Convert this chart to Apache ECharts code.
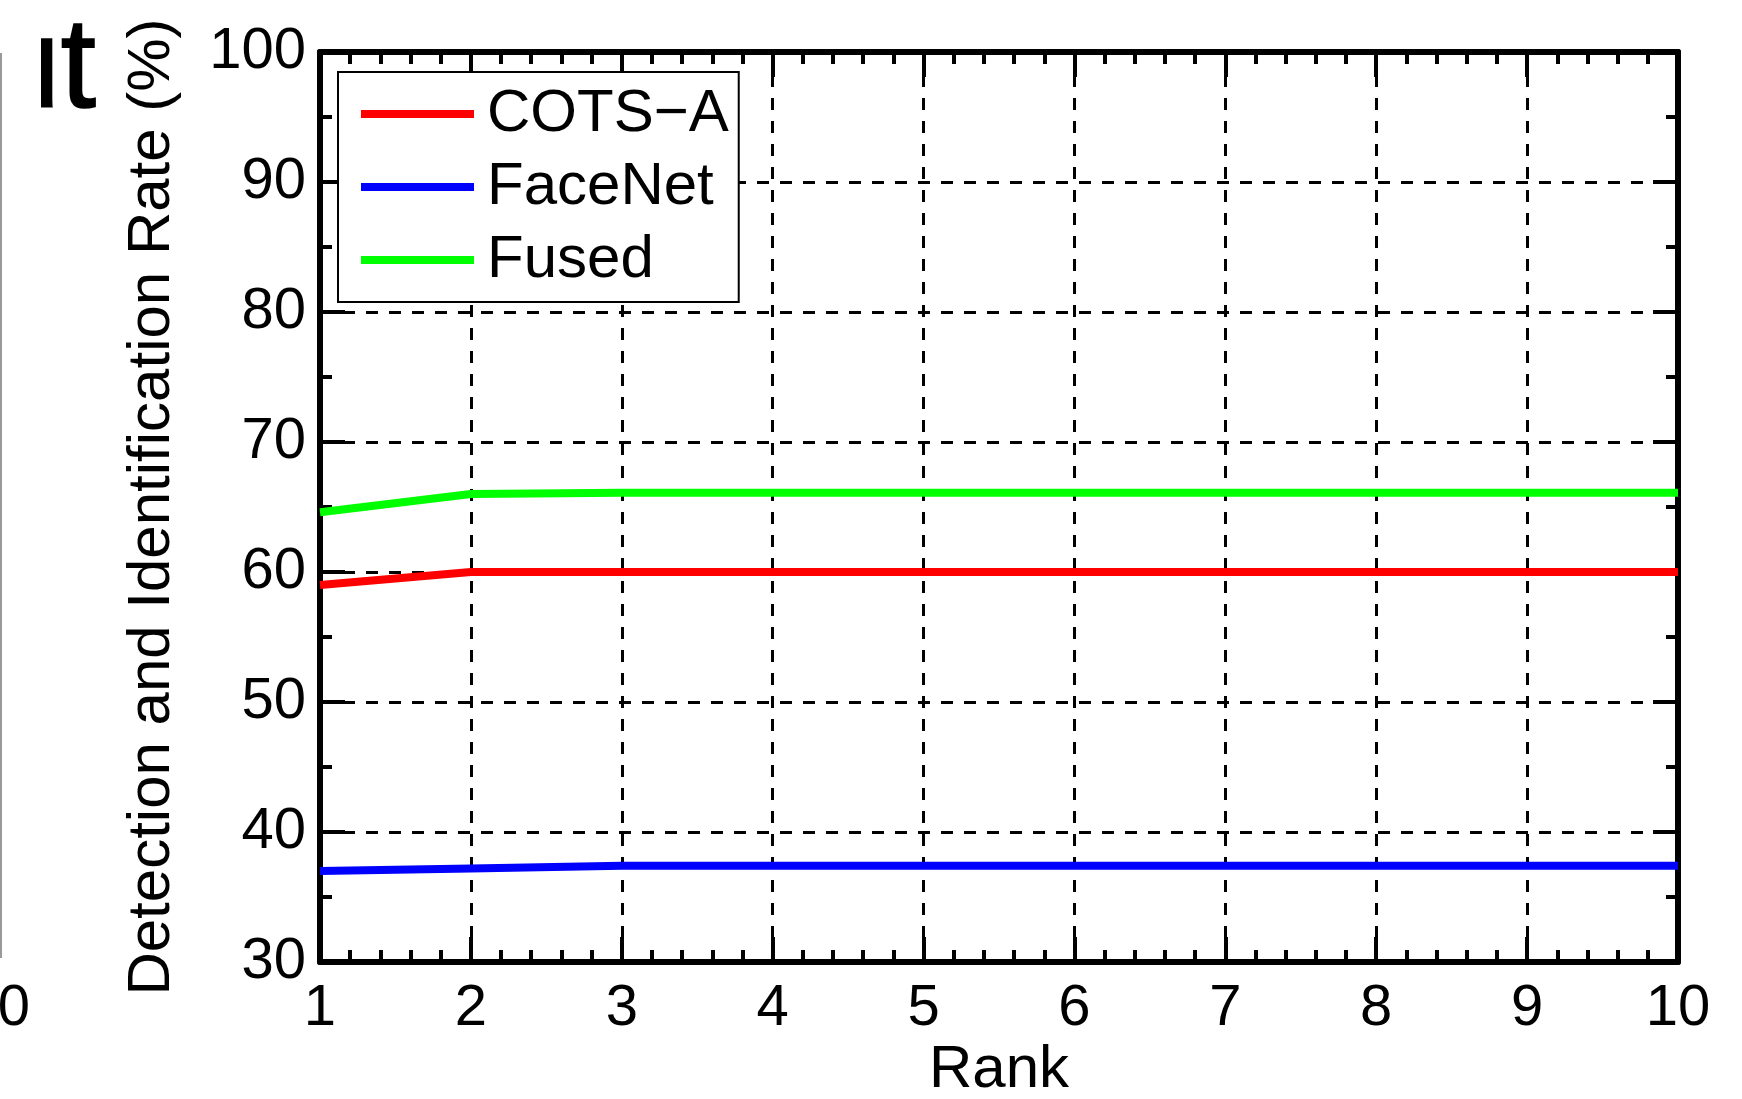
<!DOCTYPE html>
<html>
<head>
<meta charset="utf-8">
<script src="https://cdn.jsdelivr.net/npm/echarts@6/dist/echarts.min.js"></script>
<style>
html,body{margin:0;padding:0;background:#fff;}
#chart{width:1742px;height:1099px;}
</style>
</head>
<body>
<div id="chart"></div>
<script>
// ---- data ----
const ranks = [1, 2, 3, 4, 5, 6, 7, 8, 9, 10];
const seriesNames = ['COTS\u2212A', 'FaceNet', 'Fused'];
const cotsA  = [59.0, 60.0, 60.0, 60.0, 60.0, 60.0, 60.0, 60.0, 60.0, 60.0];
const faceNet = [37.0, 37.2, 37.4, 37.4, 37.4, 37.4, 37.4, 37.4, 37.4, 37.4];
const fused  = [64.6, 66.0, 66.1, 66.1, 66.1, 66.1, 66.1, 66.1, 66.1, 66.1];
const seriesColors = ['#ff0000', '#0000ff', '#00ff00'];
const xTitle = 'Rank';
const yTitle = 'Detection and Identification Rate (%)';

const FONT = '"Liberation Sans", Arial, Helvetica, sans-serif';
const chart = echarts.init(document.getElementById('chart'), null, {renderer: 'canvas'});

const pairs = vals => ranks.map((r, i) => [r, vals[i]]);
const allVals = [cotsA, faceNet, fused];

const tickStyle = {show: true, inside: true, length: 25, lineStyle: {color: '#000', width: 4}};
const minorStyle = (n) => ({show: true, splitNumber: n, length: 12, lineStyle: {color: '#000', width: 4}});
const lineAxis = {show: true, lineStyle: {color: '#000', width: 6}};
const gridDash = {show: true, lineStyle: {color: '#000', width: 3, type: [12, 11]}};

const option = {
  backgroundColor: '#fff',
  animation: false,
  grid: {left: 320, right: 64, top: 52, bottom: 137, containLabel: false},
  xAxis: [
    {type: 'value', min: 1, max: 10, interval: 1, position: 'bottom',
     axisLine: lineAxis, axisTick: tickStyle, minorTick: minorStyle(5),
     splitLine: gridDash,
     axisLabel: {color: '#000', fontSize: 58, fontFamily: FONT, margin: 18,
                 showMinLabel: true, showMaxLabel: true}},
    {type: 'value', min: 1, max: 10, interval: 1, position: 'top',
     axisLine: lineAxis, axisTick: tickStyle, minorTick: minorStyle(5),
     splitLine: {show: false}, axisLabel: {show: false}}
  ],
  yAxis: [
    {type: 'value', min: 30, max: 100, interval: 10, position: 'left',
     axisLine: lineAxis, axisTick: tickStyle, minorTick: minorStyle(2),
     splitLine: gridDash,
     axisLabel: {color: '#000', fontSize: 58, fontFamily: FONT, margin: 14}},
    {type: 'value', min: 30, max: 100, interval: 10, position: 'right',
     axisLine: lineAxis, axisTick: tickStyle, minorTick: minorStyle(2),
     splitLine: {show: false}, axisLabel: {show: false}}
  ],
  legend: {
    orient: 'vertical', left: 338, top: 72,
    backgroundColor: '#fff', borderColor: '#000', borderWidth: 2, borderRadius: 0,
    padding: [12, 10, 12, 23],
    itemGap: 13, itemWidth: 113, itemHeight: 8,
    icon: 'rect',
    textStyle: {color: '#000', fontSize: 60, lineHeight: 60, fontFamily: FONT, padding: [0, 0, 0, 8]},
    data: seriesNames
  },
  graphic: [
    {type: 'text', x: 152, y: 507, rotation: Math.PI / 2,
     style: {text: yTitle, fill: '#000', font: '60px ' + FONT, align: 'center', verticalAlign: 'middle'}},
    {type: 'text', x: 999, y: 1070,
     style: {text: xTitle, fill: '#000', font: '60px ' + FONT, align: 'center', verticalAlign: 'middle'}},
    // fragments of the neighbouring panel at the left edge
    {type: 'text', x: 30, y: 1009,
     style: {text: '0', fill: '#000', font: '58px ' + FONT, align: 'right', verticalAlign: 'middle'}},
    {type: 'text', x: 96, y: 72, z: 10,
     style: {text: 'ut', fill: '#000', font: '128px ' + FONT, align: 'right', verticalAlign: 'middle',
             stroke: '#000', lineWidth: 1.5}},
    {type: 'rect', z: 11, shape: {x: 0, y: 0, width: 41, height: 135}, style: {fill: '#fff'}},
    {type: 'rect', z: 12, shape: {x: 0, y: 53, width: 2, height: 905}, style: {fill: '#999'}}
  ],
  series: seriesNames.map((name, i) => ({
    name: name, type: 'line', xAxisIndex: 0, yAxisIndex: 0,
    data: pairs(allVals[i]), showSymbol: false, symbol: 'none',
    lineStyle: {color: seriesColors[i], width: 8},
    itemStyle: {color: seriesColors[i]},
    z: 5
  }))
};
chart.setOption(option);
</script>
</body>
</html>
